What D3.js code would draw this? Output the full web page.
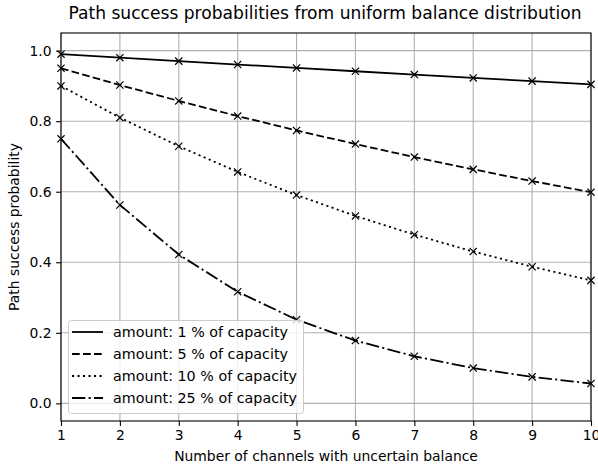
<!DOCTYPE html>
<html><head><meta charset="utf-8">
<script src="https://cdn.jsdelivr.net/npm/d3@7"></script>
<style>body{margin:0;background:#fff}svg{display:block;font-family:"DejaVu Sans",sans-serif}</style>
</head><body><svg id="c" width="598" height="466"></svg>
<script>
const channels = [1,2,3,4,5,6,7,8,9,10];
const seriesNames = ["amount: 1 % of capacity","amount: 5 % of capacity","amount: 10 % of capacity","amount: 25 % of capacity"];
const amount1 = [0.99,0.9801,0.9703,0.9606,0.9510,0.9415,0.9321,0.9227,0.9135,0.9044];
const amount5 = [0.95,0.9025,0.8574,0.8145,0.7738,0.7351,0.6983,0.6634,0.6302,0.5987];
const amount10 = [0.90,0.81,0.729,0.6561,0.5905,0.5314,0.4783,0.4305,0.3874,0.3487];
const amount25 = [0.75,0.5625,0.4219,0.3164,0.2373,0.1780,0.1335,0.1001,0.0751,0.0563];
const xTicks = [1,2,3,4,5,6,7,8,9,10];
const yTicks = [0.0,0.2,0.4,0.6,0.8,1.0];
const title = "Path success probabilities from uniform balance distribution";
const xLabel = "Number of channels with uncertain balance";
const yLabel = "Path success probability";

const dashes = [null,"7.7,3.3","2.1,3.4","13.3,3.3,2.1,3.3"];
const allSeries = [amount1,amount5,amount10,amount25];

const svg = d3.select("#c");
const L=61,R=591,T=33,B=421;
const FS = 13.9;
const x = d3.scaleLinear().domain([1,10]).range([L,R]);
const y = d3.scaleLinear().domain([-0.05,1.05]).range([B,T]);

// grid
const g = svg.append("g");
g.selectAll(".gx").data(xTicks).enter().append("line")
  .attr("x1",d=>x(d)).attr("x2",d=>x(d)).attr("y1",T).attr("y2",B)
  .attr("stroke","#b0b0b0").attr("stroke-width",1.1);
g.selectAll(".gy").data(yTicks).enter().append("line")
  .attr("y1",d=>y(d)).attr("y2",d=>y(d)).attr("x1",L).attr("x2",R)
  .attr("stroke","#b0b0b0").attr("stroke-width",1.1);

// lines
const line = d3.line().x((d,i)=>x(channels[i])).y(d=>y(d));
allSeries.forEach((s,k)=>{
  const p = svg.append("path").datum(s).attr("d",line).attr("fill","none")
    .attr("stroke","#000").attr("stroke-width",1.8);
  if(dashes[k]) p.attr("stroke-dasharray",dashes[k]);
  svg.append("g").selectAll("path").data(s).enter().append("path")
    .attr("d",(d,i)=>{const cx=x(channels[i]),cy=y(d),r=3.6;return `M${cx-r},${cy-r}L${cx+r},${cy+r}M${cx-r},${cy+r}L${cx+r},${cy-r}`;})
    .attr("stroke","#000").attr("stroke-width",1.2);
});

// axes frame
svg.append("rect").attr("x",L).attr("y",T).attr("width",R-L).attr("height",B-T)
  .attr("fill","none").attr("stroke","#000").attr("stroke-width",1.1);

const xAxis = d3.axisBottom(x).tickValues(xTicks).tickFormat(d3.format("d")).tickSize(4.9).tickPadding(4);
const ax = svg.append("g").attr("transform",`translate(0,${B})`).call(xAxis);
const yAxis = d3.axisLeft(y).tickValues(yTicks).tickFormat(d3.format(".1f")).tickSize(4.9).tickPadding(4.5);
const ay = svg.append("g").attr("transform",`translate(${L},0)`).call(yAxis);
[ax,ay].forEach(a=>{
  a.select(".domain").remove();
  a.selectAll("line").attr("stroke","#000").attr("stroke-width",1.1);
  a.selectAll("text").attr("font-family","DejaVu Sans").attr("font-size",FS).attr("fill","#000");
});

svg.append("text").attr("x",325).attr("y",19).attr("text-anchor","middle")
  .attr("font-size",17.1).attr("fill","#000").text(title);
svg.append("text").attr("x",(L+R)/2).attr("y",461).attr("text-anchor","middle")
  .attr("font-size",FS).attr("fill","#000").text(xLabel);
svg.append("text").attr("transform",`translate(19,${(T+B)/2}) rotate(-90)`).attr("text-anchor","middle")
  .attr("font-size",FS).attr("fill","#000").text(yLabel);

// legend
const lg = svg.append("g");
lg.append("rect").attr("x",68.5).attr("y",320.5).attr("width",235).attr("height",93).attr("rx",3)
  .attr("fill","rgba(255,255,255,0.8)").attr("stroke","#cccccc").attr("stroke-width",1);
seriesNames.forEach((n,k)=>{
  const yy = 332 + k*22;
  const l = lg.append("line").attr("x1",72).attr("x2",103).attr("y1",yy).attr("y2",yy)
    .attr("stroke","#000").attr("stroke-width",1.8);
  if(dashes[k]) l.attr("stroke-dasharray",dashes[k]);
  lg.append("text").attr("x",113).attr("y",yy+5).attr("font-size",14.3).attr("fill","#000").text(n);
});
</script></body></html>
